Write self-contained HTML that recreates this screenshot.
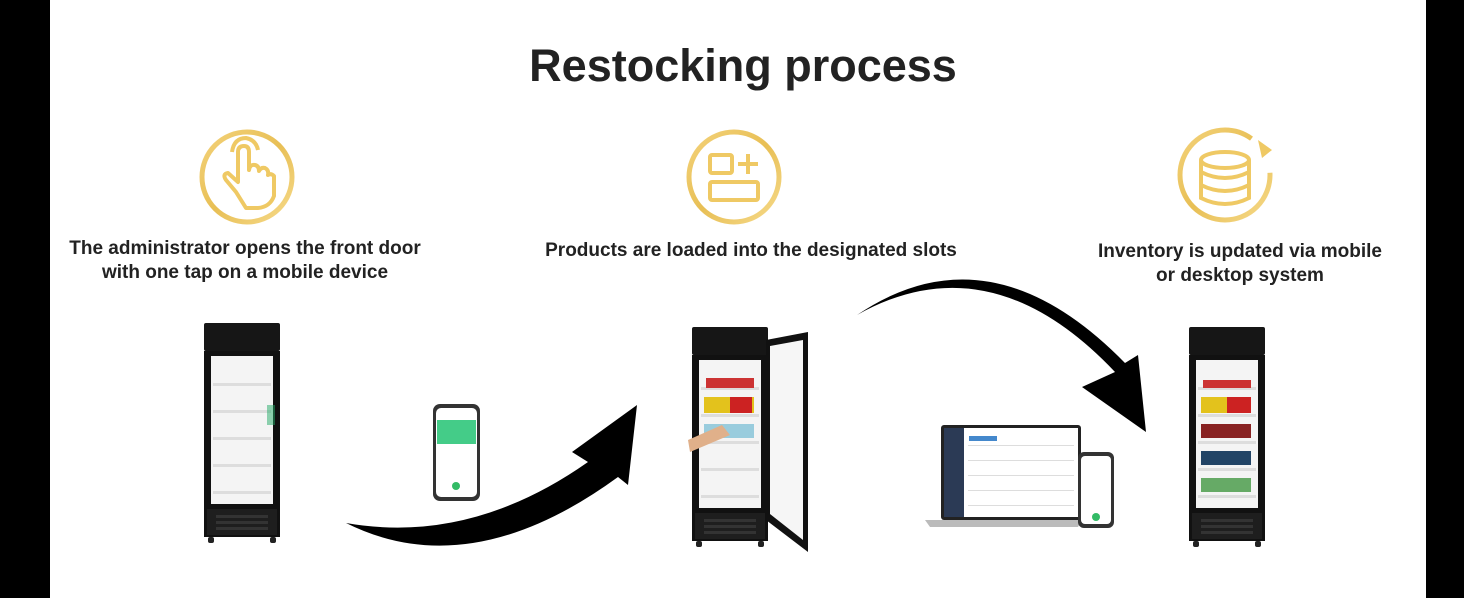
<!DOCTYPE html>
<html><head><meta charset="utf-8"><style>
html,body{margin:0;padding:0;width:1464px;height:598px;overflow:hidden;background:#000}
svg{display:block}
text{font-family:"Liberation Sans",Arial,sans-serif;font-weight:bold;fill:#222}
</style></head><body>
<svg width="1464" height="598" viewBox="0 0 1464 598">
<defs>
<linearGradient id="g" x1="0" y1="0" x2="1" y2="1"><stop offset="0" stop-color="#f3d27a"/><stop offset="0.5" stop-color="#e8bf55"/><stop offset="1" stop-color="#f6da8a"/></linearGradient>
<g id="fridge">
<rect x="0" y="0" width="76" height="28" fill="#161616" rx="2"/>
<rect x="0" y="28" width="76" height="186" fill="#111"/>
<rect x="7" y="33" width="62" height="148" fill="#f4f4f4"/>
<g fill="#ddd"><rect x="9" y="60" width="58" height="3"/><rect x="9" y="87" width="58" height="3"/><rect x="9" y="114" width="58" height="3"/><rect x="9" y="141" width="58" height="3"/><rect x="9" y="168" width="58" height="3"/></g>
<rect x="3" y="186" width="70" height="26" fill="#1e1e1e"/>
<g fill="#333"><rect x="12" y="192" width="52" height="3"/><rect x="12" y="198" width="52" height="3"/><rect x="12" y="204" width="52" height="3"/></g>
<rect x="4" y="214" width="6" height="6" fill="#222" rx="2"/><rect x="66" y="214" width="6" height="6" fill="#222" rx="2"/>
</g>
</defs>
<rect x="50" y="0" width="1376" height="598" fill="#fff"/>
<text x="743" y="81" font-size="45" text-anchor="middle" fill="#222">Restocking process</text>

<circle cx="247" cy="177" r="45" fill="none" stroke="url(#g)" stroke-width="5"/>
<path d="M236 192 L226 180 Q222 174 228 173 L238 182 L238 152 Q238 146 244 146 Q249 146 249 152 L249 170 Q250 164 255 165 Q259 166 259 171 Q261 167 265 168 Q269 170 268 175 Q271 173 274 176 L274 196 Q270 207 258 208 L246 208 Z" fill="none" stroke="#efc964" stroke-width="4" stroke-linejoin="round"/>
<path d="M232 152 Q234 138 246 138 Q256 140 258 150" fill="none" stroke="#efc964" stroke-width="4"/>

<circle cx="734" cy="177" r="45" fill="none" stroke="url(#g)" stroke-width="5"/>
<rect x="710" y="155" width="22" height="18" rx="2" fill="none" stroke="#efc964" stroke-width="4"/>
<path d="M738 164 H758 M748 154 V174" stroke="#efc964" stroke-width="4"/>
<rect x="710" y="182" width="48" height="18" rx="2" fill="none" stroke="#efc964" stroke-width="4"/>

<circle cx="1225" cy="175" r="45" fill="none" stroke="url(#g)" stroke-width="5" stroke-dasharray="240 40"/>
<path d="M1258 140 L1272 150 L1262 158 Z" fill="#efc964"/>
<g fill="none" stroke="#efc964" stroke-width="4">
<ellipse cx="1225" cy="160" rx="24" ry="8"/>
<path d="M1201 160 V198 Q1225 210 1249 198 V160 M1201 172 Q1225 184 1249 172 M1201 185 Q1225 197 1249 185"/>
</g>

<text x="245" y="254" font-size="19" text-anchor="middle">The administrator opens the front door</text>
<text x="245" y="278" font-size="19" text-anchor="middle">with one tap on a mobile device</text>
<text x="751" y="256" font-size="19" text-anchor="middle">Products are loaded into the designated slots</text>
<text x="1240" y="257" font-size="19" text-anchor="middle">Inventory is updated via mobile</text>
<text x="1240" y="281" font-size="19" text-anchor="middle">or desktop system</text>

<use href="#fridge" x="204" y="323"/>
<rect x="267" y="405" width="8" height="20" fill="#2a6" opacity=".5"/>
<use href="#fridge" x="692" y="327"/>
<path d="M766 340 L808 332 L808 552 L766 520 Z" fill="#111"/>
<path d="M770 346 L803 340 L803 540 L770 514 Z" fill="#f6f6f6"/>
<g><rect x="706" y="378" width="48" height="10" fill="#c33"/><rect x="704" y="397" width="50" height="16" fill="#e3c21c"/><rect x="730" y="397" width="22" height="16" fill="#c22"/><rect x="704" y="424" width="50" height="14" fill="#9cd"/></g>
<path d="M688 440 L722 425 L730 435 L690 452 Z" fill="#e0b08a"/>
<use href="#fridge" x="1189" y="327"/>
<g><rect x="1203" y="380" width="48" height="8" fill="#c33"/><rect x="1201" y="397" width="50" height="16" fill="#e3c21c"/><rect x="1227" y="397" width="24" height="16" fill="#c22"/><rect x="1201" y="424" width="50" height="14" fill="#822"/><rect x="1201" y="451" width="50" height="14" fill="#246"/><rect x="1201" y="478" width="50" height="14" fill="#6a6"/></g>

<rect x="433" y="404" width="47" height="97" rx="7" fill="#333"/>
<rect x="436" y="408" width="41" height="89" rx="5" fill="#fff"/>
<rect x="437" y="420" width="39" height="24" fill="#4c8"/>
<circle cx="456" cy="486" r="4" fill="#3b6"/>

<rect x="941" y="425" width="140" height="95" rx="3" fill="#222"/>
<rect x="944" y="428" width="134" height="89" fill="#fff"/>
<rect x="944" y="428" width="20" height="89" fill="#2b3a55"/>
<g fill="#ddd"><rect x="968" y="445" width="106" height="1"/><rect x="968" y="460" width="106" height="1"/><rect x="968" y="475" width="106" height="1"/><rect x="968" y="490" width="106" height="1"/><rect x="968" y="505" width="106" height="1"/></g>
<rect x="969" y="436" width="28" height="5" fill="#48c"/>
<path d="M925 520 H1082 L1078 527 H930 Z" fill="#bbb"/>
<rect x="1078" y="452" width="36" height="76" rx="6" fill="#333"/>
<rect x="1081" y="456" width="30" height="68" rx="4" fill="#fff"/>
<circle cx="1096" cy="517" r="4" fill="#3b6"/>

<path d="M346 523 Q470 585 618 477 L628 485 L637 405 L572 452 L588 462 Q470 545 346 523 Z" fill="#000"/>
<path d="M857 315 Q990 240 1115 372 L1082 387 L1146 432 L1138 355 L1125 363 Q990 225 857 315 Z" fill="#000"/>
</svg>
</body></html>
